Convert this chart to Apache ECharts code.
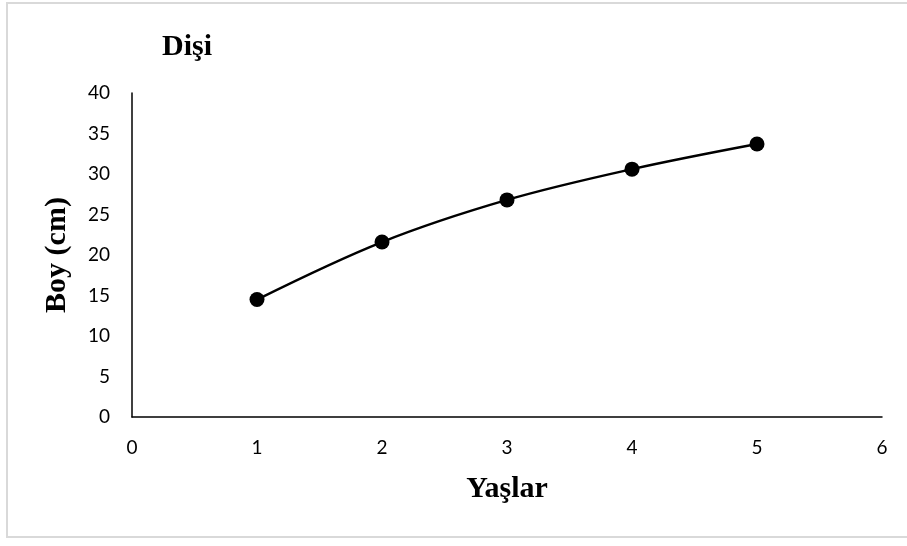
<!DOCTYPE html>
<html>
<head>
<meta charset="utf-8">
<script src="https://cdn.jsdelivr.net/npm/echarts@6/dist/echarts.min.js"></script>
<style>
html,body{margin:0;padding:0;background:#fff;}
#c{width:907px;height:546px;}
</style>
</head>
<body>
<div id="c"></div>
<script>
const titleText = 'Dişi';
const xName = 'Yaşlar';
const yName = 'Boy (cm)';
const ages = [1, 2, 3, 4, 5];
const lengths = [14.5, 21.6, 26.8, 30.6, 33.7];

const chart = echarts.init(document.getElementById('c'), null, {renderer: 'canvas'});
const labelFont = {fontFamily: 'Lato', fontSize: 19, color: '#000'};
const nameFont = {fontFamily: 'Liberation Serif', fontWeight: 'bold', fontSize: 30, color: '#000'};

chart.setOption({
  backgroundColor: '#fff',
  animation: false,
  title: {
    text: titleText,
    left: 157,
    top: 27,
    textStyle: nameFont
  },
  graphic: [{
    type: 'rect',
    shape: {x: 7, y: 3, width: 910, height: 534},
    style: {fill: 'none', stroke: '#d9d9d9', lineWidth: 2},
    silent: true
  }],
  grid: {left: 132, right: 25, top: 93, bottom: 129, containLabel: false},
  xAxis: {
    type: 'value',
    min: 0, max: 6, interval: 1,
    name: xName,
    nameLocation: 'middle',
    nameGap: 57,
    nameTextStyle: nameFont,
    axisLine: {show: true, onZero: false, lineStyle: {color: '#000', width: 1.5}},
    axisTick: {show: false},
    splitLine: {show: false},
    axisLabel: Object.assign({margin: 21}, labelFont)
  },
  yAxis: {
    type: 'value',
    min: 0, max: 40, interval: 5,
    name: yName,
    nameLocation: 'middle',
    nameGap: 60,
    nameRotate: 90,
    nameTextStyle: nameFont,
    axisLine: {show: true, lineStyle: {color: '#000', width: 1.5}},
    axisTick: {show: false},
    splitLine: {show: false},
    axisLabel: Object.assign({margin: 22}, labelFont)
  },
  series: [{
    type: 'line',
    data: ages.map((a, i) => [a, lengths[i]]),
    smooth: 0.35,
    symbol: 'circle',
    symbolSize: 15,
    itemStyle: {color: '#000'},
    lineStyle: {color: '#000', width: 2.5}
  }]
});
</script>
</body>
</html>
